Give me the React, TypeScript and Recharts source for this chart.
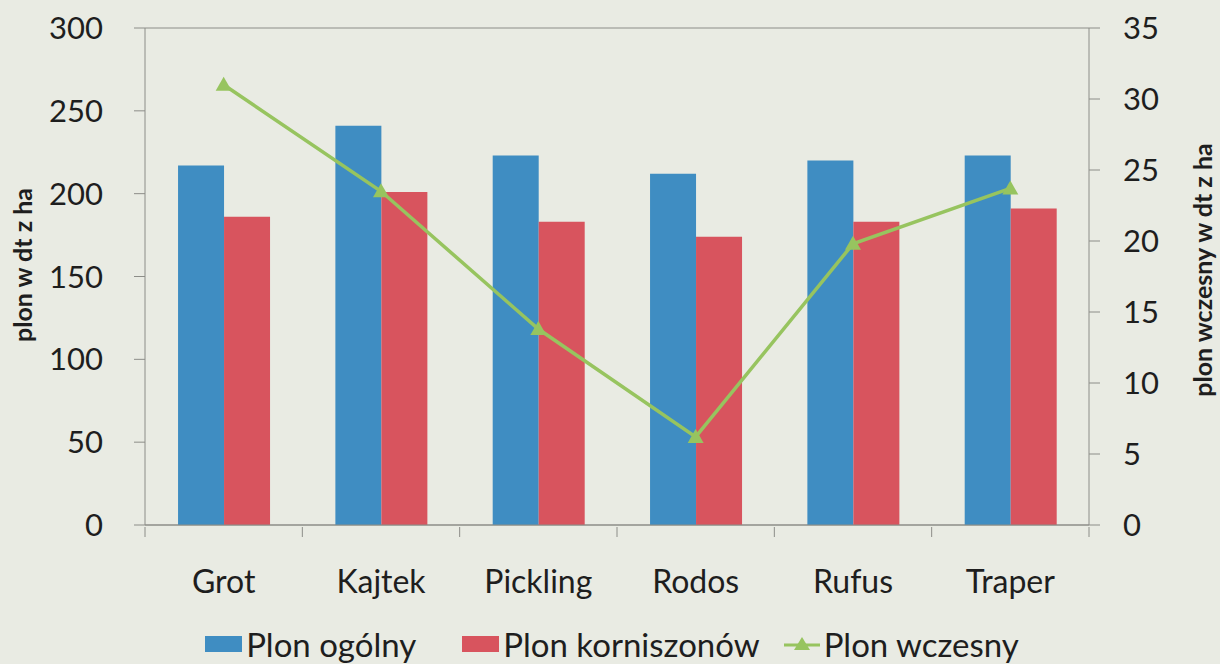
import {
  ComposedChart,
  Bar,
  Line,
  XAxis,
  YAxis,
  CartesianGrid,
  Legend,
} from "recharts"

const categories = ["Grot", "Kajtek", "Pickling", "Rodos", "Rufus", "Traper"]
const plonOgolny = [217, 241, 223, 212, 220, 223]
const plonKorniszonow = [186, 201, 183, 174, 183, 191]
const plonWczesny = [31.0, 23.5, 13.8, 6.2, 19.8, 23.7]
const leftTicks = [0, 50, 100, 150, 200, 250, 300]
const rightTicks = [0, 5, 10, 15, 20, 25, 30, 35]

const BLUE = "#3f8dc2"
const RED = "#d8545e"
const GREEN = "#97c45f"
const GRID = "#8c8d88"
const TEXT = "#1e1e1e"
const FONT = "Lato, 'Open Sans', sans-serif"

const W = 1220
const H = 664
const LEFT_W = 145
const RIGHT_W = 131
const PLOT_W = W - LEFT_W - RIGHT_W
const BAND = PLOT_W / categories.length

const data = categories.map((name, i) => ({
  name,
  ogolny: plonOgolny[i],
  korniszony: plonKorniszonow[i],
  wczesny: plonWczesny[i],
}))

function CategoryTick(props: any) {
  const { x, y, payload, index } = props
  return (
    <g>
      <line x1={x - BAND / 2} x2={x - BAND / 2} y1={y} y2={y + 10} stroke={GRID} />
      {index === categories.length - 1 && (
        <line x1={x + BAND / 2} x2={x + BAND / 2} y1={y} y2={y + 10} stroke={GRID} />
      )}
      <text x={x} y={y + 66} textAnchor="middle" fontSize={32} fill={TEXT} fontFamily={FONT}>
        {payload.value}
      </text>
    </g>
  )
}

function Triangle(props: any) {
  const { cx, cy } = props
  if (cx == null || cy == null) return null
  return <polygon points={`${cx},${cy - 8} ${cx - 8},${cy + 6} ${cx + 8},${cy + 6}`} fill={GREEN} />
}

function AxisTitle({ x, cy, text }: { x: number; cy: number; text: string }) {
  return (
    <text
      x={x}
      y={cy}
      transform={`rotate(-90 ${x} ${cy})`}
      textAnchor="middle"
      dominantBaseline="central"
      fontSize={25}
      fontWeight={700}
      fill={TEXT}
      fontFamily={FONT}
    >
      {text}
    </text>
  )
}

function LegendContent() {
  const item = { display: "flex", alignItems: "center", gap: 4 } as const
  return (
    <div
      style={{
        height: 40,
        display: "flex",
        justifyContent: "center",
        alignItems: "center",
        fontFamily: FONT,
        fontSize: 33,
        color: TEXT,
        lineHeight: 1,
        paddingLeft: 4,
      }}
    >
      <div style={item}>
        <span style={{ width: 37, height: 16, background: BLUE, display: "inline-block" }} />
        <span>Plon ogólny</span>
      </div>
      <div style={{ ...item, marginLeft: 46 }}>
        <span style={{ width: 37, height: 16, background: RED, display: "inline-block" }} />
        <span>Plon korniszonów</span>
      </div>
      <div style={{ ...item, marginLeft: 24 }}>
        <svg width={36} height={16}>
          <line x1={0} x2={36} y1={9} y2={9} stroke={GREEN} strokeWidth={3} />
          <polygon points="18,1 10,14 26,14" fill={GREEN} />
        </svg>
        <span>Plon wczesny</span>
      </div>
    </div>
  )
}

export default function App() {
  return (
    <div style={{ position: "absolute", left: 0, top: 0, width: W, height: H, background: "#e9ebe3" }}>
      <ComposedChart
        width={W}
        height={H}
        data={data}
        margin={{ top: 28, right: 0, bottom: 0, left: 0 }}
        barCategoryGap="21%"
        barGap={0}
      >
        <CartesianGrid vertical={false} stroke={GRID} strokeWidth={1} />
        <XAxis
          dataKey="name"
          height={99}
          axisLine={{ stroke: GRID }}
          tickLine={false}
          tickSize={0}
          tick={<CategoryTick />}
          interval={0}
        />
        <YAxis
          yAxisId="left"
          width={LEFT_W}
          domain={[0, 300]}
          ticks={leftTicks}
          axisLine={{ stroke: GRID }}
          tickLine={{ stroke: GRID }}
          tickSize={11}
          tickMargin={31}
          tick={{ fontSize: 31, fill: TEXT, fontFamily: FONT }}
          label={{ content: () => <AxisTitle x={22} cy={265} text="plon w dt z ha" /> }}
        />
        <YAxis
          yAxisId="right"
          orientation="right"
          width={RIGHT_W}
          domain={[0, 35]}
          ticks={rightTicks}
          axisLine={{ stroke: GRID }}
          tickLine={{ stroke: GRID }}
          tickSize={11}
          tickMargin={23}
          tick={{ fontSize: 31, fill: TEXT, fontFamily: FONT, textAnchor: "start" }}
          label={{ content: () => <AxisTitle x={1202} cy={270} text="plon wczesny w dt z ha" /> }}
        />
        <Bar yAxisId="left" dataKey="ogolny" name="Plon ogólny" fill={BLUE} isAnimationActive={false} />
        <Bar yAxisId="left" dataKey="korniszony" name="Plon korniszonów" fill={RED} isAnimationActive={false} />
        <Line
          yAxisId="right"
          dataKey="wczesny"
          name="Plon wczesny"
          stroke={GREEN}
          strokeWidth={3.5}
          dot={<Triangle />}
          activeDot={false}
          isAnimationActive={false}
        />
        <Legend verticalAlign="bottom" content={<LegendContent />} />
      </ComposedChart>
    </div>
  )
}
